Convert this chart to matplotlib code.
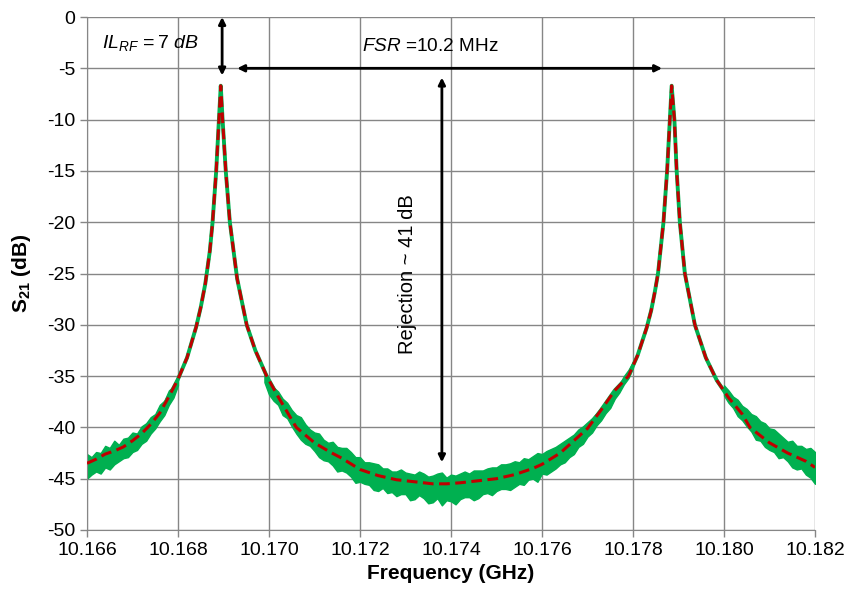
import numpy as np
import matplotlib
matplotlib.use('Agg')
import matplotlib.pyplot as plt

## Options
plt.rcParams['font.family'] = ['Liberation Sans', 'DejaVu Sans']
plt.rcParams['axes.unicode_minus'] = False
plt.rcParams['mathtext.fontset'] = 'custom'
plt.rcParams['mathtext.rm'] = 'Liberation Sans'
plt.rcParams['mathtext.it'] = 'Liberation Sans:italic'
plt.rcParams['mathtext.bf'] = 'Liberation Sans:bold'
fontsize = 14

## Fitted response (red dashed) [GHz, dB]
fit_f = [10.1660, 10.1662, 10.1664, 10.1666, 10.1668, 10.1670, 10.1672, 10.1674, 10.1676, 10.1678,
         10.1680, 10.1682, 10.1684, 10.1685, 10.1686, 10.1687, 10.16876, 10.16884, 10.16890, 10.16894,
         10.16898, 10.16905, 10.16914, 10.1693, 10.16951, 10.1697, 10.16995, 10.1702, 10.1704, 10.1706,
         10.1710, 10.17134, 10.1716, 10.1720, 10.1724, 10.1728, 10.1732, 10.1736, 10.1739, 10.1742,
         10.1746, 10.1750, 10.1754, 10.1758, 10.1760, 10.1764, 10.1768, 10.1770, 10.1773, 10.1776,
         10.1779, 10.1781, 10.1783, 10.1784, 10.17848, 10.17855, 10.17867, 10.17875, 10.17881, 10.17885,
         10.17891, 10.17896, 10.17903, 10.17914, 10.17936, 10.1796, 10.17984, 10.1801, 10.1804, 10.18057,
         10.1810, 10.1814, 10.1818, 10.1820]
fit_db = [-43.5, -43.1, -42.6, -42.3, -41.9, -41.3, -40.6, -39.7, -38.6, -37.0,
          -35.3, -33.2, -30.2, -28.3, -26.0, -22.8, -20.0, -15.0, -10.0, -6.7,
          -10.0, -15.0, -20.0, -25.5, -30.0, -32.5, -35.0, -37.0, -38.5, -40.0,
          -41.5, -42.4, -43.0, -44.1, -44.7, -45.1, -45.3, -45.5, -45.5, -45.4,
          -45.2, -45.0, -44.6, -44.0, -43.6, -42.5, -40.9, -40.1, -38.3, -36.4,
          -35.0, -33.0, -30.3, -28.6, -26.8, -25.0, -20.0, -15.0, -10.0, -6.7,
          -10.0, -15.0, -20.0, -25.0, -30.0, -33.2, -35.4, -37.1, -38.7, -40.0,
          -41.5, -42.5, -43.3, -43.9]

meas_f1 = [10.1660, 10.1661, 10.1662, 10.1663, 10.1664, 10.1665, 10.1666, 10.1667, 10.1668, 10.1669,
           10.1670, 10.1671, 10.1672, 10.1673, 10.1674, 10.1675, 10.1676, 10.1677, 10.1678, 10.1679, 10.1680]
meas_hi1 = [-42.6, -42.9, -42.4, -42.5, -41.8, -42.0, -41.3, -41.7, -41.1, -41.0,
            -40.5, -40.6, -39.9, -39.6, -39.0, -38.7, -37.8, -37.4, -36.4, -36.0, -34.9]
meas_lo1 = [-45.0, -44.6, -44.3, -44.5, -43.9, -44.1, -43.6, -43.3, -43.0, -42.9,
            -42.4, -42.2, -41.6, -41.3, -40.6, -40.1, -39.4, -38.8, -37.8, -37.1, -35.9]

meas_f2 = [10.1699, 10.1700, 10.1701, 10.1702, 10.1703, 10.1704, 10.1705, 10.1706, 10.1707, 10.1708,
           10.1709, 10.1710, 10.1711, 10.1712, 10.1713, 10.1714, 10.1715, 10.1716, 10.1717, 10.1718,
           10.1719, 10.1720, 10.1721, 10.1722, 10.1723, 10.1724, 10.1725, 10.1726, 10.1727, 10.1728,
           10.1729, 10.1730, 10.1731, 10.1732, 10.1733, 10.1734, 10.1735, 10.1736, 10.1737, 10.1738,
           10.1739, 10.1740, 10.1741, 10.1742, 10.1743, 10.1744, 10.1745, 10.1746, 10.1747, 10.1748,
           10.1749, 10.1750, 10.1751, 10.1752, 10.1753, 10.1754, 10.1755, 10.1756, 10.1757, 10.1758,
           10.1759, 10.1760, 10.1761, 10.1762, 10.1763, 10.1764, 10.1765, 10.1766, 10.1767, 10.1768,
           10.1769, 10.1770, 10.1771, 10.1772, 10.1773, 10.1774, 10.1775, 10.1776, 10.1777, 10.1778,
           10.1779, 10.1780]
meas_hi2 = [-34.8, -35.6, -36.1, -36.5, -37.2, -37.6, -38.3, -38.8, -39.0, -39.7,
            -40.2, -40.5, -40.6, -41.2, -41.5, -41.4, -41.9, -42.0, -42.0, -42.4,
            -42.9, -42.9, -43.4, -43.4, -43.5, -43.6, -44.0, -44.0, -44.3, -44.3,
            -44.1, -44.4, -44.5, -44.6, -44.3, -44.5, -44.8, -44.7, -44.5, -44.4,
            -44.9, -44.6, -44.7, -44.5, -44.3, -44.5, -44.2, -44.2, -44.2, -44.0,
            -43.9, -43.9, -43.6, -43.6, -43.5, -43.3, -43.4, -43.0, -43.1, -42.8,
            -42.5, -42.6, -42.3, -42.1, -41.9, -41.6, -41.3, -41.0, -40.7, -40.2,
            -39.9, -39.5, -39.1, -38.6, -38.1, -37.6, -37.0, -36.3, -35.8, -35.0,
            -34.4, -33.6]
meas_lo2 = [-35.6, -36.8, -37.4, -37.8, -38.8, -39.1, -39.9, -40.6, -41.2, -41.6,
            -41.8, -42.3, -42.9, -43.2, -43.3, -43.7, -44.3, -44.2, -44.4, -44.8,
            -45.4, -45.3, -45.5, -45.6, -46.1, -46.2, -45.9, -46.4, -46.3, -46.7,
            -46.5, -46.5, -47.1, -47.0, -46.6, -46.9, -47.4, -47.3, -46.9, -47.6,
            -47.1, -47.2, -47.5, -47.0, -46.8, -46.8, -47.1, -46.9, -46.5, -46.4,
            -46.6, -46.2, -46.0, -46.0, -46.1, -45.8, -45.5, -45.6, -45.1, -45.0,
            -45.3, -44.5, -44.6, -44.3, -44.0, -43.6, -43.4, -42.9, -42.6, -41.9,
            -41.6, -40.9, -40.5, -39.8, -39.3, -38.6, -38.1, -37.2, -36.6, -35.8,
            -35.2, -34.2]

meas_f3 = [10.1800, 10.1801, 10.1802, 10.1803, 10.1804, 10.1805, 10.1806, 10.1807, 10.1808, 10.1809,
           10.1810, 10.1811, 10.1812, 10.1813, 10.1814, 10.1815, 10.1816, 10.1817, 10.1818, 10.1819, 10.1820]
meas_hi3 = [-35.9, -36.4, -37.0, -37.3, -37.9, -38.2, -38.7, -38.9, -39.4, -39.6,
            -40.1, -40.2, -40.6, -41.0, -41.4, -41.3, -41.8, -41.8, -42.1, -42.0, -42.4]
meas_lo3 = [-36.9, -37.6, -38.1, -38.9, -39.3, -39.9, -40.4, -41.2, -41.3, -41.9,
            -42.2, -42.4, -43.0, -42.9, -43.3, -43.9, -44.1, -44.0, -44.6, -44.9, -45.5]

## Annotation values
peak1_f = 10.16897
peak2_f = 10.17864
rej_f = 10.1738

green = '#00B050'
red = '#C00000'

fig = plt.figure(figsize=(8.47, 5.99), dpi=100)
ax = fig.add_axes([0.1027, 0.1152, 0.8595, 0.8564])

# measured trace
ax.plot(fit_f, fit_db, color=green, lw=2.8, zorder=2)
for f, hi, lo in [(meas_f1, meas_hi1, meas_lo1), (meas_f2, meas_hi2, meas_lo2), (meas_f3, meas_hi3, meas_lo3)]:
    ax.fill_between(f, lo, hi, color=green, lw=1.0, edgecolor=green, zorder=2)
# fit
ax.plot(fit_f, fit_db, color=red, lw=2.2, ls=(0, (3.5, 1.8)), zorder=3)

ax.set_xlim(10.166, 10.182)
ax.set_ylim(-50, 0)
ax.set_xticks(np.arange(10.166, 10.18201, 0.002))
ax.set_xticklabels(['%.3f' % t for t in np.arange(10.166, 10.18201, 0.002)])
ax.set_yticks(np.arange(-50, 1, 5))
ax.set_yticklabels(['%d' % t for t in np.arange(-50, 1, 5)])
ax.tick_params(labelsize=fontsize, length=5, color='#868686', width=1)
ax.grid(True, color='#868686', lw=1)
ax.set_axisbelow(True)
for s in ax.spines.values():
    s.set_visible(False)
ax.spines['left'].set_visible(True)
ax.spines['bottom'].set_visible(True)
ax.spines['left'].set_color('#868686')
ax.spines['bottom'].set_color('#868686')

ax.set_xlabel('Frequency (GHz)', fontsize=15, fontweight='bold', labelpad=4)
ax.set_ylabel(r'$\mathbf{S_{21}}$ (dB)', fontsize=15, fontweight='bold', labelpad=10)

# annotations
arr = dict(arrowstyle='<|-|>', color='black', lw=2, mutation_scale=10, shrinkA=0, shrinkB=0)
ax.annotate('', xy=(peak1_f, 0), xytext=(peak1_f, -5.7), arrowprops=arr)
ax.annotate('', xy=(10.1693, -5), xytext=(peak2_f, -5), arrowprops=arr)
ax.annotate('', xy=(rej_f, -5.9), xytext=(rej_f, -43.4), arrowprops=arr)

ax.text(10.16634, -2.5, r'$IL_{RF}$$\,\mathit{=7\ dB}$', fontsize=fontsize, ha='left', va='center')
ax.text(10.17354, -2.9, r'$FSR$ =10.2 MHz', fontsize=13.7, ha='center', va='center')
ax.text(10.17305, -25.1, 'Rejection ~ 41 dB', fontsize=14.5, rotation=90, ha='center', va='center')

fig.savefig('out.png', dpi=100)
